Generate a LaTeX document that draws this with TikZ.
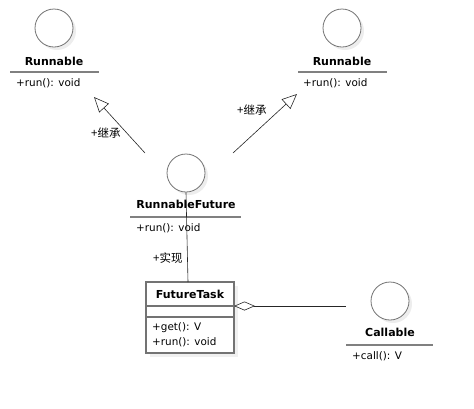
\documentclass[tikz,border=0pt]{standalone}
\usepackage{fontspec}
\setmainfont{DejaVu Sans}
\newfontfamily\cjk{Noto Sans CJK SC}
\usetikzlibrary{arrows.meta}
\begin{document}
\begin{tikzpicture}[x=1pt,y=-1pt,
 iface/.style={circle,draw=black!55,fill=white,line width=0.8pt,minimum size=38pt,inner sep=0pt},
 shadowc/.style={circle,fill=black!7,minimum size=38pt,inner sep=0pt},
 title/.style={font=\bfseries\fontsize{11}{13}\selectfont,inner sep=0pt},
 member/.style={font=\fontsize{10.4}{12}\selectfont,inner sep=0pt,anchor=west},
 sepline/.style={draw=black!50,line width=1.6pt},
 link/.style={draw=black!85,line width=0.6pt},
 inh/.style={link,-{Triangle[open,length=15pt,width=13pt]}},
 lbl/.style={font=\cjk\fontsize{11.5}{13}\selectfont,inner sep=0pt,anchor=west}]
\useasboundingbox (0,0) rectangle (474,408);
% Runnable (left)
\node[shadowc] (r1s) at (57,31) {};
\node[iface] (r1c) at (54,28) {};
\node[title] (r1t) at (54,61) {Runnable};
\draw[sepline] (10,72) -- (99,72);
\node[member] (r1m) at (16,83) {+run(): void};
% Runnable (right)
\node[shadowc] (r2s) at (345,31) {};
\node[iface] (r2c) at (342,28) {};
\node[title] (r2t) at (342,61) {Runnable};
\draw[sepline] (298,72) -- (387,72);
\node[member] (r2m) at (303,83) {+run(): void};
% RunnableFuture
\node[shadowc] (rfs) at (189,176) {};
\node[iface] (rfc) at (186,173) {};
\node[title] (rft) at (186,204) {RunnableFuture};
\draw[sepline] (130,217) -- (241,217);
\node[member] (rfm) at (136,228) {+run(): void};
% FutureTask
\fill[black!6] (150,286) rectangle (238,357);
\node[draw=black!55,fill=white,line width=1.2pt,minimum width=88pt,minimum height=71pt,inner sep=0pt] (ft) at (190,317.5) {};
\node[title] (ftt) at (190,294) {FutureTask};
\draw[draw=black!55,line width=1.2pt] (146,306) -- (234,306);
\draw[draw=black!55,line width=1.2pt] (146,317) -- (234,317);
\node[member] (ftm1) at (152,328) {+get(): V};
\node[member] (ftm2) at (152,342) {+run(): void};
% Callable
\node[shadowc] (cs) at (393,304) {};
\node[iface] (cc) at (390,301) {};
\node[title] (ct) at (390,332) {Callable};
\draw[sepline] (346,345) -- (433,345);
\node[member] (cm) at (352,356) {+call(): V};
% connectors
\coordinate (a1s) at (145,153);
\coordinate (a1e) at (94,97);
\draw[inh] (a1s) -- (a1e);
\node[lbl] (l1) at (91,133) {+继承};
\coordinate (a2s) at (233,153);
\coordinate (a2e) at (297,94);
\draw[inh] (a2s) -- (a2e);
\node[lbl] (l2) at (237,110) {+继承};
\coordinate (rimp) at (188,282);
\draw[link] (rfc.south) -- (rimp);
\node[lbl] (l3) at (153,258) {+实现};
\coordinate (agg1) at (234,306);
\coordinate (agg2) at (346,306);
\draw[link,{Diamond[open,length=21pt,width=9pt]}-] (agg1) -- (agg2);
\end{tikzpicture}
\end{document}
